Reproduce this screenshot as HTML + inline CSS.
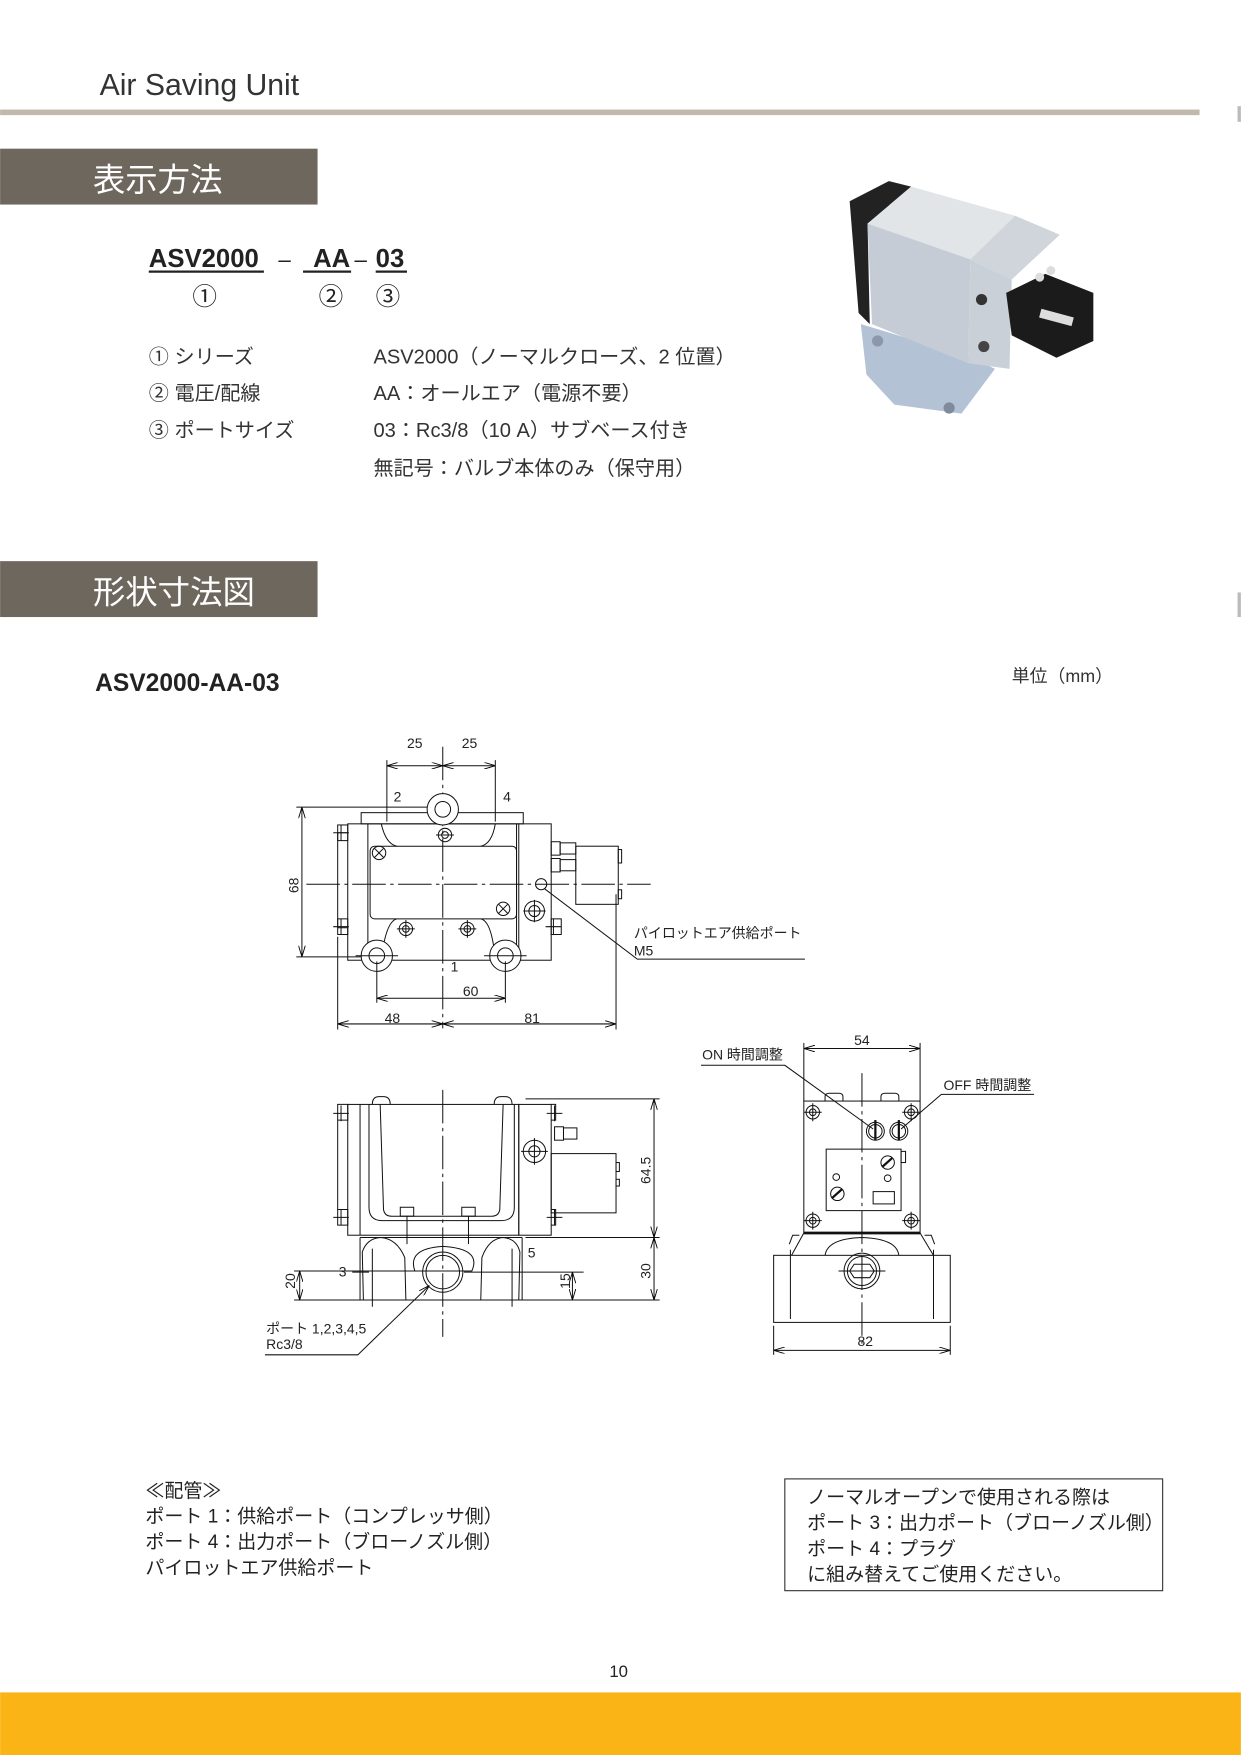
<!DOCTYPE html>
<html><head><meta charset="utf-8"><style>
html,body{margin:0;padding:0;background:#fff;}
svg{display:block;}
text{font-family:"Liberation Sans","Noto Sans CJK JP",sans-serif;}
</style></head><body>
<svg width="1241" height="1755" viewBox="0 0 1110 1570" xmlns="http://www.w3.org/2000/svg">
<defs>
<marker id="a" viewBox="0 0 10 6" refX="10" refY="3" markerWidth="10" markerHeight="6" orient="auto-start-reverse" markerUnits="userSpaceOnUse"><path d="M0,0 L10,3 L0,6" fill="none" stroke="#000" stroke-width="0.8"/></marker>
</defs>
<rect width="1110" height="1570" fill="#fff"/>
<!-- header -->
<text x="89" y="85" font-size="27" fill="#333">Air Saving Unit</text>
<rect x="0" y="98" width="1073" height="5" fill="#c2b8ac"/>
<rect x="1107" y="95" width="3" height="14" fill="#bbb"/>
<rect x="1107" y="530" width="3" height="22" fill="#bbb"/>
<rect x="0" y="133" width="284" height="50" fill="#6e675d"/>
<text x="83" y="171" font-size="29" fill="#fff">表示方法</text>
<rect x="0" y="502" width="284" height="50" fill="#6e675d"/>
<text x="83" y="540" font-size="29" fill="#fff">形状寸法図</text>

<!-- model code -->
<g font-size="23" font-weight="bold" fill="#222">
<text x="133" y="239">ASV2000</text>
<text x="280" y="239">AA</text>
<text x="336" y="239">03</text>
</g>
<text x="249" y="239" font-size="20" fill="#222">–</text>
<text x="317" y="239" font-size="20" fill="#222">–</text>
<g stroke="#222" stroke-width="2"><line x1="133" y1="243" x2="236" y2="243"/><line x1="271" y1="243" x2="314" y2="243"/><line x1="336" y1="243" x2="364" y2="243"/></g>
<g font-size="22" fill="#222"><text x="172" y="273">①</text><text x="285" y="273">②</text><text x="336" y="273">③</text></g>
<g font-size="18" fill="#333">
<text x="133" y="325">① シリーズ</text><text x="334" y="325">ASV2000（ノーマルクローズ、2 位置）</text>
<text x="133" y="358">② 電圧/配線</text><text x="334" y="358">AA：オールエア（電源不要）</text>
<text x="133" y="391">③ ポートサイズ</text><text x="334" y="391">03：Rc3/8（10 A）サブベース付き</text>
<text x="334" y="425">無記号：バルブ本体のみ（保守用）</text>
</g>

<!-- photo -->
<g>
<polygon points="770,290 775,335 800,362 860,370 890,330 870,320" fill="#b4c2d6"/>
<polygon points="760,180 795,162 815,167 776,200 778,290 768,280" fill="#222"/>
<polygon points="776,200 815,167 908,193 868,232" fill="#e2e5e8"/>
<polygon points="776,200 868,232 866,325 780,290" fill="#c5ccd5"/>
<polygon points="868,232 908,193 948,210 905,250" fill="#d0d5db"/>
<polygon points="868,232 905,250 903,330 866,325" fill="#c9d0d8"/>
<polygon points="900,262 935,245 978,262 978,305 945,320 905,300" fill="#1b1b1b"/>
<circle cx="878" cy="268" r="5" fill="#333"/>
<circle cx="880" cy="310" r="5" fill="#444"/>
<circle cx="785" cy="305" r="5" fill="#8c98aa"/>
<circle cx="849" cy="365" r="5" fill="#7f8a9a"/>
<circle cx="930" cy="248" r="4" fill="#ddd"/><circle cx="940" cy="242" r="4" fill="#ddd"/>
<rect x="930" y="280" width="30" height="8" fill="#ddd" transform="rotate(15 945 284)"/>
</g>

<text x="85" y="618" font-size="22" font-weight="bold" fill="#222">ASV2000-AA-03</text>
<text x="905" y="610" font-size="16" fill="#333">単位（mm）</text>

<!-- drawings -->
<g fill="none" stroke="#111" stroke-width="0.9">
<!-- TOP VIEW -->
<line x1="396" y1="668" x2="396" y2="920" stroke-dasharray="30,4,3,4"/>
<line x1="274" y1="791" x2="582" y2="791" stroke-dasharray="30,4,3,4"/>
<line x1="346" y1="685" x2="396" y2="685" marker-start="url(#a)" marker-end="url(#a)"/>
<line x1="396" y1="685" x2="443" y2="685" marker-start="url(#a)" marker-end="url(#a)"/>
<line x1="346" y1="680" x2="346" y2="735"/><line x1="443" y1="680" x2="443" y2="735"/>
<line x1="270" y1="722" x2="270" y2="856" marker-start="url(#a)" marker-end="url(#a)"/>
<line x1="265" y1="722" x2="385" y2="722"/><line x1="265" y1="856" x2="325" y2="856"/>
<rect x="323" y="727" width="145" height="10"/>
<rect x="311" y="737" width="182" height="122"/>
<line x1="329" y1="737" x2="329" y2="859"/><line x1="462" y1="737" x2="462" y2="859"/><line x1="464" y1="737" x2="464" y2="859"/>
<path d="M302,745 L311,745 M302,745 L302,830 L311,830"/>
<rect x="302" y="738" width="9" height="14"/><rect x="302" y="822" width="9" height="14"/>
<rect x="493" y="822" width="9" height="14"/>
<path d="M298,745 h14 M305,738 v14 M298,829 h14 M305,822 v14 M488,829 h14 M495,822 v14"/>
<rect x="331" y="757" width="131" height="65" rx="4"/>
<path d="M341,737 Q345,755 355,757 M443,737 Q440,755 430,757 M341,859 Q345,824 355,822 M443,859 Q440,824 430,822"/>
<circle cx="396" cy="724" r="14" fill="#fff"/><circle cx="396" cy="724" r="7"/>
<circle cx="398" cy="747" r="6"/><circle cx="398" cy="747" r="3"/>
<circle cx="363" cy="831" r="6"/><circle cx="363" cy="831" r="3"/>
<circle cx="418" cy="831" r="6"/><circle cx="418" cy="831" r="3"/>
<circle cx="478" cy="815" r="9"/><circle cx="478" cy="815" r="5"/>
<path d="M390,747 h16 M363,823 v16 M355,831 h16 M418,823 v16 M410,831 h16 M468,815 h20 M478,805 v20"/>
<circle cx="339" cy="763" r="6"/><path d="M335,759 l8,8 M343,759 l-8,8"/>
<circle cx="450" cy="813" r="6"/><path d="M446,809 l8,8 M454,809 l-8,8"/>
<circle cx="337" cy="855" r="14" fill="#fff"/><circle cx="337" cy="855" r="7"/>
<circle cx="452" cy="855" r="14" fill="#fff"/><circle cx="452" cy="855" r="7"/>
<path d="M318,855 h38 M433,855 h38 M337,860 v37 M452,860 v37"/>
<rect x="493" y="753" width="8" height="12"/><rect x="501" y="754" width="14" height="10"/>
<rect x="493" y="768" width="8" height="12"/><rect x="501" y="769" width="14" height="10"/>
<rect x="515" y="757" width="38" height="52"/>
<rect x="553" y="760" width="3" height="12"/><rect x="553" y="796" width="3" height="8"/>
<circle cx="484" cy="791" r="5"/>
<path d="M487,795 L570,858 L720,858"/>
<line x1="337" y1="893" x2="452" y2="893" marker-start="url(#a)" marker-end="url(#a)"/>
<line x1="302" y1="916" x2="396" y2="916" marker-start="url(#a)" marker-end="url(#a)"/>
<line x1="396" y1="916" x2="551" y2="916" marker-start="url(#a)" marker-end="url(#a)"/>
<line x1="302" y1="838" x2="302" y2="921"/><line x1="551" y1="800" x2="551" y2="921"/>

<!-- FRONT VIEW -->
<line x1="396" y1="975" x2="396" y2="1196" stroke-dasharray="30,4,3,4"/>
<rect x="311" y="988" width="153" height="117"/>
<line x1="322" y1="988" x2="322" y2="1105"/>
<rect x="464" y="988" width="29" height="117"/>
<path d="M302,988 h9 v14 h-9 z M302,1082 h9 v14 h-9 z M302,1002 v80"/>
<path d="M493,988 h4 v14 h-4 M493,1082 h4 v14 h-4"/>
<path d="M298,996 h14 M305,989 v14 M298,1089 h14 M305,1082 v14 M489,996 h14 M496,989 v14 M489,1089 h14 M496,1082 v14"/>
<path d="M330,988 L330,1080 Q330,1092 342,1092 L448,1092 Q460,1092 460,1080 L460,988"/>
<path d="M340,988 L343,1082 Q344,1088 350,1088 L440,1088 Q446,1088 447,1082 L450,988"/>
<path d="M333,988 q0,-7 6,-7 h4 q6,0 6,7 M442,988 q0,-7 6,-7 h4 q6,0 6,7"/>
<rect x="358" y="1080" width="12" height="8"/><rect x="413" y="1080" width="12" height="8"/>
<path d="M364,1088 v25 M419,1088 v25"/>
<circle cx="478" cy="1030" r="10"/><circle cx="478" cy="1030" r="5"/><path d="M466,1030 h24 M478,1018 v24"/>
<rect x="496" y="1008" width="8" height="12"/><rect x="504" y="1009" width="12" height="10"/>
<rect x="493" y="1032" width="58" height="53"/>
<rect x="551" y="1040" width="3" height="8"/><rect x="551" y="1055" width="3" height="6"/>
<path d="M322,1107 h145 M322,1107 v56 M467,1107 v56 M322,1163 h145"/>
<path d="M325,1163 L324,1120 Q328,1108 340,1107 Q355,1108 362,1125 L363,1163"/>
<path d="M430,1163 L431,1125 Q437,1108 450,1107 Q462,1108 465,1120 L464,1163"/>
<path d="M330,1137 L422,1137 Q431,1117 396,1115 Q364,1117 371,1137"/>
<circle cx="396" cy="1138" r="18"/><circle cx="396" cy="1138" r="15"/>
<path d="M333,1117 v52 M458,1117 v52"/>
<line x1="315" y1="1138" x2="330" y2="1138"/><line x1="415" y1="1138" x2="522" y2="1138"/>
<line x1="263" y1="1163" x2="330" y2="1163"/><line x1="467" y1="1163" x2="590" y2="1163"/>
<line x1="263" y1="1137" x2="330" y2="1137"/>
<line x1="268" y1="1137" x2="268" y2="1163" marker-start="url(#a)" marker-end="url(#a)"/>
<line x1="512" y1="1138" x2="512" y2="1163" marker-start="url(#a)" marker-end="url(#a)"/>
<line x1="470" y1="983" x2="590" y2="983"/><line x1="470" y1="1107" x2="590" y2="1107"/>
<line x1="585" y1="983" x2="585" y2="1107" marker-start="url(#a)" marker-end="url(#a)"/>
<line x1="585" y1="1107" x2="585" y2="1163" marker-start="url(#a)" marker-end="url(#a)"/>
<path d="M237,1212 L320,1212 L384,1150" marker-end="url(#a)"/>

<!-- SIDE VIEW -->
<line x1="771" y1="960" x2="771" y2="1206" stroke-dasharray="30,4,3,4"/>
<line x1="719" y1="938" x2="823" y2="938" marker-start="url(#a)" marker-end="url(#a)"/>
<line x1="719" y1="933" x2="719" y2="985"/><line x1="823" y1="933" x2="823" y2="985"/>
<rect x="719" y="985" width="104" height="118"/>
<path d="M738,985 v-4 q0,-3 4,-3 h8 q4,0 4,3 v4 M788,985 v-4 q0,-3 4,-3 h8 q4,0 4,3 v4"/>
<g>
<circle cx="727" cy="995" r="6"/><circle cx="727" cy="995" r="3"/><path d="M719,995 h16 M727,987 v16"/>
<circle cx="815" cy="995" r="6"/><circle cx="815" cy="995" r="3"/><path d="M807,995 h16 M815,987 v16"/>
<circle cx="727" cy="1092" r="6"/><circle cx="727" cy="1092" r="3"/><path d="M719,1092 h16 M727,1084 v16"/>
<circle cx="815" cy="1092" r="6"/><circle cx="815" cy="1092" r="3"/><path d="M807,1092 h16 M815,1084 v16"/>
</g>
<circle cx="783" cy="1012" r="8"/><circle cx="783" cy="1012" r="6"/><path d="M783,1002 v18" stroke-width="2"/>
<circle cx="804" cy="1012" r="8"/><circle cx="804" cy="1012" r="6"/><path d="M804,1002 v18" stroke-width="2"/>
<rect x="739" y="1028" width="67" height="55"/>
<rect x="806" y="1030" width="4" height="10"/>
<circle cx="794" cy="1040" r="6"/><path d="M789,1044 l9,-8" stroke-width="2"/>
<circle cx="749" cy="1068" r="6"/><path d="M744,1072 l9,-8" stroke-width="2"/>
<circle cx="748" cy="1053" r="3"/><circle cx="794" cy="1054" r="3"/>
<rect x="781" y="1066" width="19" height="11"/>
<line x1="719" y1="1103" x2="823" y2="1103" stroke-width="2.5"/>
<path d="M719,1103 L708,1123 M823,1103 L835,1123 M715,1105 h-6 l-3,8 M827,1105 h6 l3,8"/>
<rect x="692" y="1123" width="158" height="60"/>
<path d="M707,1118 v62 M835,1118 v62"/>
<path d="M738,1123 Q740,1108 771,1107 Q802,1108 804,1123"/>
<circle cx="771" cy="1137" r="16"/><circle cx="771" cy="1137" r="13"/>
<polygon points="764,1131 778,1131 782,1137 778,1143 764,1143 760,1137"/>
<line x1="750" y1="1137" x2="792" y2="1137"/>
<line x1="692" y1="1186" x2="692" y2="1212"/><line x1="850" y1="1186" x2="850" y2="1212"/>
<line x1="692" y1="1208" x2="850" y2="1208" marker-start="url(#a)" marker-end="url(#a)"/>
<path d="M627,953 L702,953 L781,1010"/>
<path d="M925,979 L842,979 L806,1010"/>
</g>

<g font-size="12.5" fill="#222">
<text x="364" y="669">25</text><text x="413" y="669">25</text>
<text x="352" y="717">2</text><text x="450" y="717">4</text>
<text x="267" y="792" transform="rotate(-90 267 792)" text-anchor="middle">68</text>
<text x="403" y="869">1</text>
<text x="414" y="891">60</text>
<text x="344" y="915">48</text><text x="469" y="915">81</text>
<text x="567" y="839">パイロットエア供給ポート</text>
<text x="567" y="855">M5</text>
<text x="582" y="1047" transform="rotate(-90 582 1047)" text-anchor="middle">64.5</text>
<text x="582" y="1137" transform="rotate(-90 582 1137)" text-anchor="middle">30</text>
<text x="510" y="1146" transform="rotate(-90 510 1146)" text-anchor="middle">15</text>
<text x="264" y="1146" transform="rotate(-90 264 1146)" text-anchor="middle">20</text>
<text x="303" y="1142">3</text><text x="472" y="1125">5</text>
<text x="238" y="1193">ポート 1,2,3,4,5</text>
<text x="238" y="1207">Rc3/8</text>
<text x="764" y="935">54</text>
<text x="767" y="1204">82</text>
<text x="628" y="948">ON 時間調整</text>
<text x="844" y="975">OFF 時間調整</text>
</g>

<!-- notes -->
<g font-size="17" fill="#222">
<text x="130" y="1339">≪配管≫</text>
<text x="130" y="1362">ポート 1：供給ポート（コンプレッサ側）</text>
<text x="130" y="1385">ポート 4：出力ポート（ブローノズル側）</text>
<text x="130" y="1408">パイロットエア供給ポート</text>
<text x="722" y="1345">ノーマルオープンで使用される際は</text>
<text x="722" y="1368">ポート 3：出力ポート（ブローノズル側）</text>
<text x="722" y="1391">ポート 4：プラグ</text>
<text x="722" y="1414">に組み替えてご使用ください。</text>
</g>
<rect x="702" y="1323" width="338" height="100" fill="none" stroke="#333" stroke-width="1"/>
<text x="545" y="1500" font-size="15" fill="#222">10</text>
<rect x="0" y="1514" width="1110" height="56" fill="#fbb416"/>
</svg>
</body></html>
